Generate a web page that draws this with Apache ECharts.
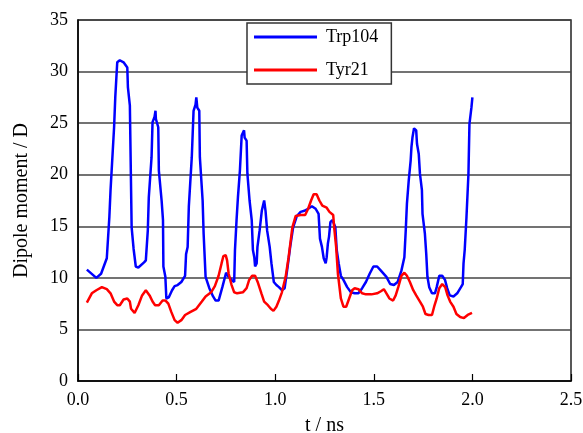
<!DOCTYPE html>
<html>
<head>
<meta charset="utf-8">
<script src="https://cdn.jsdelivr.net/npm/echarts@6/dist/echarts.min.js"></script>
<style>html,body{margin:0;padding:0;background:#fff}#c{width:583px;height:433px}</style>
</head>
<body>
<div id="c"></div>
<script>
const seriesNames = ['Trp104', 'Tyr21'];
const xTicks = [0, 0.5, 1.0, 1.5, 2.0, 2.5];
const yTicks = [0, 5, 10, 15, 20, 25, 30, 35];

const tTrp = [0.045,0.093,0.117,0.146,0.159,0.165,0.183,0.189,0.199,0.212,0.231,0.25,0.253,0.263,0.272,0.282,0.293,0.306,0.335,0.344,0.354,0.359,0.373,0.378,0.388,0.393,0.395,0.407,0.41,0.424,0.431,0.433,0.443,0.448,0.46,0.477,0.49,0.505,0.524,0.543,0.548,0.556,0.562,0.577,0.586,0.596,0.6,0.605,0.615,0.618,0.632,0.637,0.647,0.666,0.685,0.698,0.713,0.732,0.751,0.76,0.779,0.792,0.796,0.804,0.811,0.821,0.83,0.842,0.845,0.855,0.859,0.87,0.881,0.887,0.894,0.898,0.906,0.91,0.921,0.932,0.944,0.951,0.959,0.972,0.981,0.993,1.006,1.019,1.034,1.048,1.063,1.076,1.091,1.11,1.129,1.148,1.167,1.186,1.205,1.22,1.227,1.237,1.246,1.256,1.261,1.267,1.273,1.28,1.29,1.305,1.312,1.322,1.333,1.346,1.365,1.384,1.403,1.422,1.441,1.46,1.479,1.498,1.517,1.536,1.564,1.583,1.602,1.621,1.64,1.655,1.662,1.668,1.677,1.687,1.691,1.696,1.704,1.715,1.719,1.728,1.734,1.744,1.747,1.759,1.766,1.772,1.781,1.795,1.81,1.819,1.832,1.847,1.861,1.872,1.885,1.904,1.923,1.942,1.951,1.955,1.961,1.97,1.98,1.985,1.995,2.0];
const vTrp = [10.8,10.0,10.4,11.9,15.9,18.5,24.6,27.5,30.9,31.1,30.9,30.4,28.5,26.7,14.9,12.8,11.1,11.0,11.5,11.7,14.6,17.8,21.7,25.1,25.6,26.2,25.4,24.6,20.4,17.5,15.6,11.1,10.1,8.0,8.1,8.8,9.2,9.3,9.6,10.2,12.3,13.0,16.9,21.7,26.2,26.8,27.5,26.5,26.2,21.7,17.5,14.3,10.1,9.0,8.2,7.8,7.8,9.1,10.5,10.2,9.8,9.6,12.7,15.6,17.8,20.4,23.8,24.3,23.6,23.3,20.1,17.5,15.6,12.7,12.0,11.1,11.4,13.0,14.6,16.5,17.5,16.5,14.6,13.0,11.4,9.6,9.3,9.1,8.8,9.0,11.1,13.0,14.9,16.0,16.4,16.5,16.7,16.95,16.7,16.2,13.8,13.0,11.9,11.4,12.0,13.3,14.0,15.4,15.6,14.9,12.7,11.4,10.2,9.8,9.1,8.6,8.5,8.5,9.0,9.6,10.4,11.1,11.1,10.7,10.1,9.4,9.3,9.6,10.7,12.0,14.6,17.2,19.4,21.4,22.7,23.6,24.5,24.3,23.0,22.0,20.1,18.5,16.2,14.3,12.3,10.1,9.1,8.5,8.5,9.1,10.2,10.2,9.8,9.0,8.3,8.2,8.5,9.1,9.4,11.4,12.7,15.9,20.1,24.9,26.5,27.5];

const tTyr = [0.045,0.07,0.093,0.121,0.146,0.165,0.183,0.199,0.212,0.231,0.25,0.263,0.269,0.287,0.306,0.325,0.344,0.363,0.378,0.391,0.41,0.429,0.444,0.458,0.473,0.49,0.505,0.524,0.543,0.571,0.6,0.628,0.647,0.675,0.694,0.713,0.728,0.737,0.749,0.756,0.764,0.779,0.792,0.807,0.836,0.855,0.868,0.883,0.898,0.911,0.93,0.944,0.963,0.978,0.991,1.006,1.019,1.034,1.053,1.068,1.087,1.104,1.129,1.152,1.167,1.182,1.195,1.21,1.224,1.239,1.261,1.275,1.294,1.299,1.309,1.318,1.328,1.333,1.346,1.36,1.375,1.39,1.403,1.422,1.441,1.46,1.488,1.517,1.536,1.551,1.564,1.579,1.598,1.611,1.624,1.64,1.655,1.668,1.683,1.7,1.715,1.734,1.749,1.762,1.778,1.795,1.806,1.819,1.832,1.847,1.862,1.874,1.887,1.904,1.919,1.938,1.957,1.976,1.998];
const vTyr = [7.6,8.5,8.8,9.1,8.9,8.5,7.7,7.35,7.35,7.9,8.0,7.7,7.0,6.6,7.35,8.3,8.8,8.3,7.7,7.35,7.35,7.8,7.8,7.5,6.7,5.9,5.65,5.9,6.4,6.7,7.0,7.7,8.2,8.6,9.2,10.2,11.4,12.1,12.2,11.7,10.4,9.3,8.6,8.5,8.6,9.0,9.8,10.2,10.2,9.6,8.5,7.7,7.35,7.0,6.8,7.2,7.8,8.6,10.1,12.0,14.9,16.0,16.1,16.1,16.7,17.5,18.1,18.1,17.5,17.0,16.8,16.4,16.1,14.9,13.0,10.4,8.8,8.0,7.2,7.2,8.0,8.8,9.0,8.9,8.5,8.4,8.4,8.5,8.7,8.9,8.5,8.0,7.8,8.3,9.1,10.2,10.5,10.2,9.6,8.8,8.3,7.7,7.2,6.5,6.4,6.4,7.2,8.0,9.0,9.4,9.1,8.3,7.7,7.2,6.5,6.2,6.1,6.4,6.6];

const pair = (t, v) => t.map((x, i) => [x, v[i]]);
const font = '"Liberation Serif", "Times New Roman", serif';

const chart = echarts.init(document.getElementById('c'));
chart.setOption({
  animation: false,
  backgroundColor: '#fff',
  textStyle: { fontFamily: font },
  grid: { left: 78, right: 12, top: 20, bottom: 52, show: true, borderColor: '#222', borderWidth: 1.5, backgroundColor: 'transparent', containLabel: false, outerBoundsMode: 'none' },
  legend: {
    data: seriesNames.map(n => ({ name: n, icon: 'rect' })),
    orient: 'vertical',
    left: 247, top: 23,
    padding: [5, 13, 5, 7],
    itemWidth: 63, itemHeight: 3, itemGap: 15,
    backgroundColor: '#fff',
    borderColor: '#333', borderWidth: 1.5,
    textStyle: { fontFamily: font, fontSize: 18, color: '#000', padding: [0, 0, 0, 4] }
  },
  xAxis: {
    type: 'value', min: xTicks[0], max: xTicks[xTicks.length - 1], interval: 0.5,
    name: 't / ns', nameLocation: 'middle', nameGap: 35,
    nameTextStyle: { fontFamily: font, fontSize: 20, color: '#000' },
    axisLine: { lineStyle: { color: '#000', width: 1.5 } },
    axisTick: { inside: true, length: 7, lineStyle: { color: '#000', width: 1.2 } },
    axisLabel: { fontFamily: font, fontSize: 18, color: '#000', margin: 10, formatter: v => v.toFixed(1) },
    splitLine: { show: false }
  },
  yAxis: {
    type: 'value', min: yTicks[0], max: yTicks[yTicks.length - 1], interval: 5,
    name: 'Dipole moment / D', nameLocation: 'middle', nameGap: 46,
    nameTextStyle: { fontFamily: font, fontSize: 20, color: '#000' },
    axisLine: { show: true, lineStyle: { color: '#000', width: 1.5 } },
    axisTick: { show: false },
    axisLabel: { fontFamily: font, fontSize: 18, color: '#000', margin: 10 },
    splitLine: { show: true, lineStyle: { color: '#444', width: 1.5 } }
  },
  series: [
    { name: seriesNames[0], type: 'line', data: pair(tTrp, vTrp), symbol: 'none', lineStyle: { color: '#0000ff', width: 2.5 }, itemStyle: { color: '#0000ff' }, z: 3 },
    { name: seriesNames[1], type: 'line', data: pair(tTyr, vTyr), symbol: 'none', lineStyle: { color: '#ff0000', width: 2.5 }, itemStyle: { color: '#ff0000' }, z: 4 }
  ]
});
</script>
</body>
</html>
